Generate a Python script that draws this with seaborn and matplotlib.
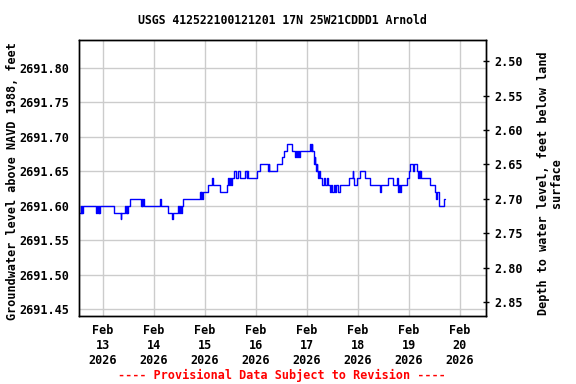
import numpy as np
import pandas as pd
import matplotlib
matplotlib.use("Agg")
import matplotlib.pyplot as plt
import matplotlib.dates as mdates
import seaborn as sns

# hours since 2026-02-12 00:00 (step changes) and water level (ft NAVD88)
hours = [13.0, 13.5, 13.75, 14.0, 14.25, 14.5, 20.75, 21.25, 21.5, 22.0, 22.25, 22.5,
         29.25, 32.25, 32.5, 34.25, 34.75, 35.25, 35.5, 36.0, 36.75, 42.0, 42.25, 42.5,
         42.75, 43.25, 51.0, 51.25, 54.5, 56.5, 56.75, 59.25, 59.75, 60.25, 60.75, 61.25,
         61.75, 69.75, 70.0, 70.25, 70.5, 71.0, 73.5, 75.5, 75.75, 79.25, 82.25, 83.0,
         83.25, 83.75, 84.25, 84.75, 85.5, 86.5, 87.5, 88.5, 90.75, 91.75, 92.0, 92.25,
         96.25, 98.0, 101.75, 102.0, 102.25, 106.0, 108.25, 109.0, 110.75, 113.0, 114.25,
         114.75, 115.25, 115.75, 116.25, 116.75, 121.25, 122.0, 122.25, 122.5, 123.25,
         123.5, 123.75, 124.0, 124.25, 124.5, 124.75, 125.25, 125.75, 126.0, 127.0, 128.0,
         128.5, 129.5, 130.0, 130.75, 131.25, 131.75, 132.5, 133.25, 133.75, 134.5, 135.5,
         139.75, 141.5, 141.75, 142.0, 143.5, 144.75, 147.25, 149.75, 154.25, 155.0, 158.0,
         160.5, 162.25, 162.75, 163.0, 163.5, 163.75, 164.25, 167.0, 168.0, 168.5, 170.0,
         170.25, 171.75, 172.25, 172.5, 173.0, 173.25, 173.75, 178.0, 180.25, 180.75, 181.0,
         182.25, 184.25, 185.0]
levels = [2691.59, 2691.60, 2691.59, 2691.60, 2691.59, 2691.60, 2691.59, 2691.60, 2691.59,
          2691.60, 2691.59, 2691.60, 2691.59, 2691.58, 2691.59, 2691.60, 2691.59, 2691.60,
          2691.59, 2691.60, 2691.61, 2691.60, 2691.61, 2691.60, 2691.61, 2691.60, 2691.61,
          2691.60, 2691.59, 2691.58, 2691.59, 2691.60, 2691.59, 2691.60, 2691.59, 2691.60,
          2691.61, 2691.62, 2691.61, 2691.62, 2691.61, 2691.62, 2691.63, 2691.64, 2691.63,
          2691.62, 2691.63, 2691.64, 2691.63, 2691.64, 2691.63, 2691.64, 2691.65, 2691.64,
          2691.65, 2691.64, 2691.65, 2691.64, 2691.65, 2691.64, 2691.65, 2691.66, 2691.65,
          2691.66, 2691.65, 2691.66, 2691.67, 2691.68, 2691.69, 2691.68, 2691.67, 2691.68,
          2691.67, 2691.68, 2691.67, 2691.68, 2691.69, 2691.68, 2691.69, 2691.68, 2691.67,
          2691.66, 2691.67, 2691.66, 2691.65, 2691.66, 2691.65, 2691.64, 2691.65, 2691.64,
          2691.63, 2691.64, 2691.63, 2691.64, 2691.63, 2691.62, 2691.63, 2691.62, 2691.63,
          2691.62, 2691.63, 2691.62, 2691.63, 2691.64, 2691.65, 2691.64, 2691.63, 2691.64,
          2691.65, 2691.64, 2691.63, 2691.62, 2691.63, 2691.64, 2691.63, 2691.64, 2691.63,
          2691.62, 2691.63, 2691.62, 2691.63, 2691.64, 2691.65, 2691.66, 2691.65, 2691.66,
          2691.65, 2691.64, 2691.65, 2691.64, 2691.65, 2691.64, 2691.63, 2691.62, 2691.61,
          2691.62, 2691.60, 2691.61, 2691.61]
land_surface = 2694.31
left_ticks = [2691.45, 2691.50, 2691.55, 2691.60, 2691.65, 2691.70, 2691.75, 2691.80]
right_ticks = [2.50, 2.55, 2.60, 2.65, 2.70, 2.75, 2.80, 2.85]
tick_days = ["2026-02-13", "2026-02-14", "2026-02-15", "2026-02-16",
             "2026-02-17", "2026-02-18", "2026-02-19", "2026-02-20"]
title = "USGS 412522100121201 17N 25W21CDDD1 Arnold"
ylabel_left = "Groundwater level above NAVD 1988, feet"
ylabel_right = "Depth to water level, feet below land\nsurface"
footer = "---- Provisional Data Subject to Revision ----"

sns.set_style("white")
plt.rcParams["font.family"] = ["DejaVu Sans Mono", "DejaVu Sans"]
plt.rcParams["font.weight"] = "bold"
plt.rcParams["text.color"] = "black"
plt.rcParams["axes.labelcolor"] = "black"
plt.rcParams["xtick.color"] = "black"
plt.rcParams["ytick.color"] = "black"

t0 = pd.Timestamp("2026-02-12 00:00")
df = pd.DataFrame({"time": t0 + pd.to_timedelta(hours, unit="h"), "level": levels})

fig = plt.figure(figsize=(5.76, 3.84), dpi=100)
ax = fig.add_axes([79 / 576, 1 - 316 / 384, (486 - 79) / 576, (316 - 40) / 384])
sns.lineplot(data=df, x="time", y="level", ax=ax, color="#0000ff", linewidth=1,
             drawstyle="steps-post", estimator=None)

ylo, yhi = 2691.4398, 2691.8406
ax.set_ylim(ylo, yhi)
ax.set_xlim(t0 + pd.Timedelta(hours=12.71), t0 + pd.Timedelta(hours=204.24))
ax.set_yticks(left_ticks)
ax.set_yticklabels([f"{v:.2f}" for v in left_ticks])
ticks = pd.to_datetime(tick_days)
ax.set_xticks(ticks)
ax.set_xticklabels([d.strftime("%b\n%d\n%Y") for d in ticks], linespacing=1.2)
ax.grid(True, color="#cccccc", linewidth=1)
ax.set_axisbelow(True)
ax.tick_params(axis="both", length=0, labelsize=8.5, pad=6, colors="black")
ax.tick_params(axis="y", pad=7)
ax.set_xlabel("")
ax.set_ylabel("")
for s in ax.spines.values():
    s.set_color("black")
    s.set_linewidth(1)

ax2 = ax.twinx()
ax2.set_ylim(land_surface - ylo, land_surface - yhi)
ax2.set_yticks(right_ticks)
ax2.set_yticklabels([f"{v:.2f}" for v in right_ticks])
ax2.tick_params(axis="y", length=4, direction="inout", width=1, labelsize=8.5, pad=4,
                colors="black")
ax2.grid(False)
for s in ax2.spines.values():
    s.set_color("black")
    s.set_linewidth(1)

fig.text(282 / 576, 1 - 20 / 384, title, ha="center", va="center", fontsize=8.3,
         fontweight="bold", color="black")
fig.text(13 / 576, 1 - 181 / 384, ylabel_left, ha="center", va="center", rotation=90,
         fontsize=8.5, fontweight="bold", color="black")
fig.text(550 / 576, 1 - 183 / 384, ylabel_right, ha="center", va="center", rotation=90,
         fontsize=8.5, fontweight="bold", multialignment="center", linespacing=0.95,
         color="black")
fig.text(282 / 576, 1 - 375 / 384, footer, ha="center", va="center", fontsize=8.5,
         fontweight="bold", color="red")

fig.savefig("out.png", dpi=100)
